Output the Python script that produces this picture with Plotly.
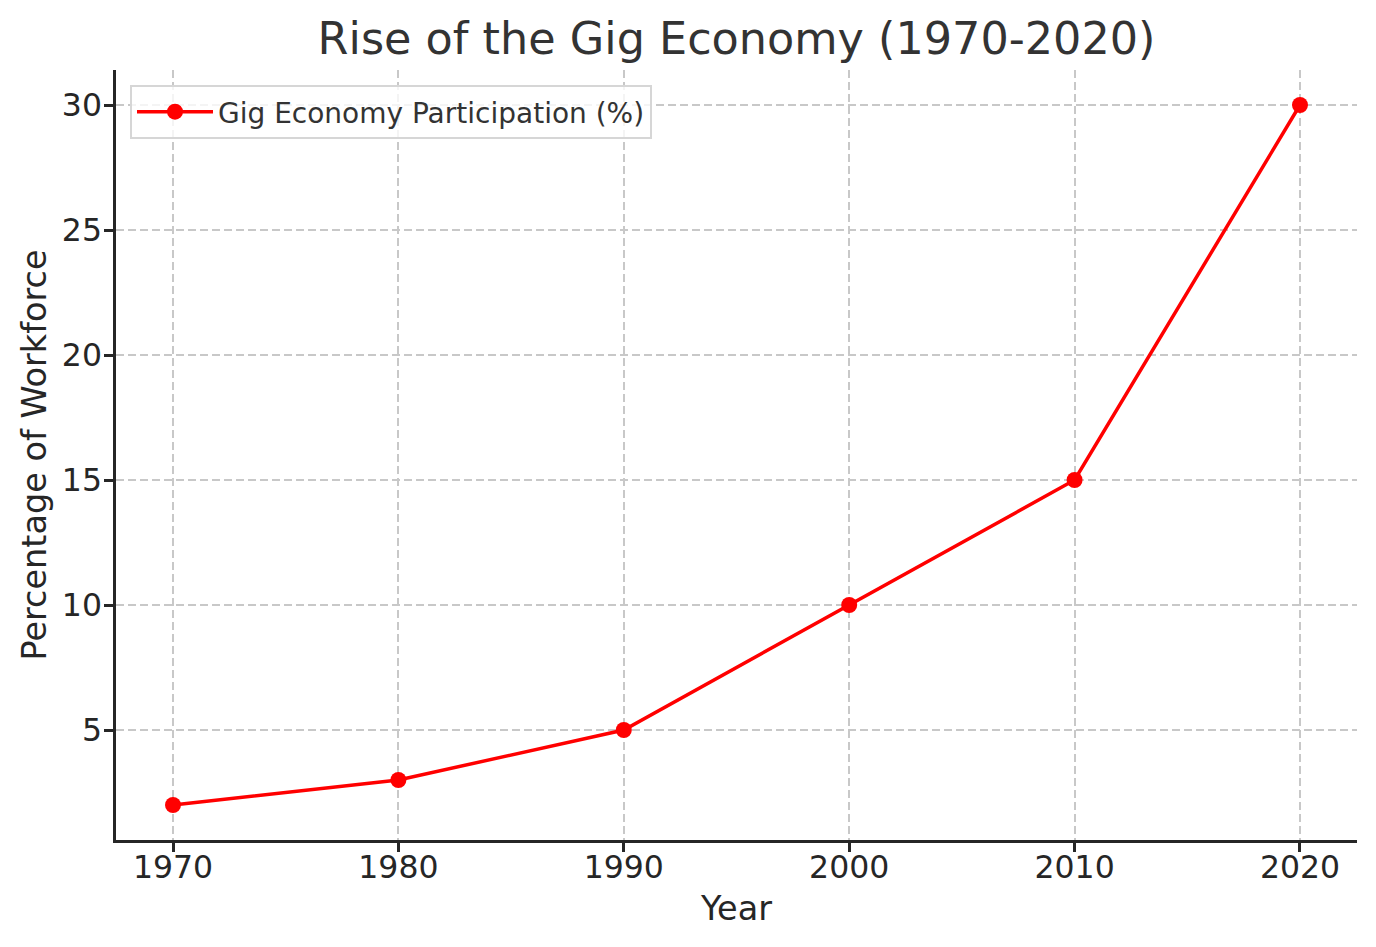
import plotly.graph_objects as go

years = [1970, 1980, 1990, 2000, 2010, 2020]
participation = [2, 3, 5, 10, 15, 30]
series_name = "Gig Economy Participation (%)"
title_text = "Rise of the Gig Economy (1970-2020)"
x_label = "Year"
y_label = "Percentage of Workforce"
y_ticks = [5, 10, 15, 20, 25, 30]

# page body has an 8px margin, so the figure is drawn offset by 8px
OFF = 8
W, H = 1376 - OFF, 947 - OFF
ml, mt = 116 - OFF, 70 - OFF
mr = W - (1357 - OFF)
mb = H - (840 - OFF)

fig = go.Figure()
fig.add_trace(go.Scatter(
    x=years, y=participation, mode="lines+markers", name=series_name,
    line=dict(color="#ff0000", width=3.5),
    marker=dict(color="#ff0000", size=16),
))

axis_common = dict(
    showline=True, linecolor="#262626", linewidth=2.5,
    ticks="outside", ticklen=9, tickwidth=2.5, tickcolor="#262626",
    tickfont=dict(family="DejaVu Sans", size=31.5, color="#262626"),
    showgrid=True, gridcolor="#c8c8c8", gridwidth=1.5, griddash="8px,4px",
    zeroline=False, mirror=False,
)

fig.update_layout(
    width=W, height=H,
    margin=dict(l=ml, r=mr, t=mt, b=mb),
    paper_bgcolor="white", plot_bgcolor="white",
    font=dict(family="DejaVu Sans", color="#262626"),
    title=dict(text=title_text, x=0.5, xref="paper", xanchor="center",
               y=1 - (38 - OFF) / H, yref="container", yanchor="middle",
               font=dict(family="DejaVu Sans", size=44.5, color="#333333")),
    xaxis=dict(range=[1967.47, 2022.53], tickvals=years, ticklabelstandoff=-12,
               title=dict(text=x_label, font=dict(size=33.5, color="#262626"), standoff=14),
               **axis_common),
    yaxis=dict(range=[0.6, 31.4], tickvals=y_ticks, ticklabelstandoff=-4,
               title=dict(text=y_label, font=dict(size=33.5, color="#262626"), standoff=6),
               **axis_common),
    showlegend=True,
    legend=dict(x=(130 - 116) / (1357 - 116), y=(840 - 85) / (840 - 70),
                xanchor="left", yanchor="top", itemwidth=76,
                bgcolor="rgba(255,255,255,0.8)", bordercolor="#d6d6d6", borderwidth=2,
                font=dict(family="DejaVu Sans", size=28, color="#333333")),
)

fig.write_html("out.html")
